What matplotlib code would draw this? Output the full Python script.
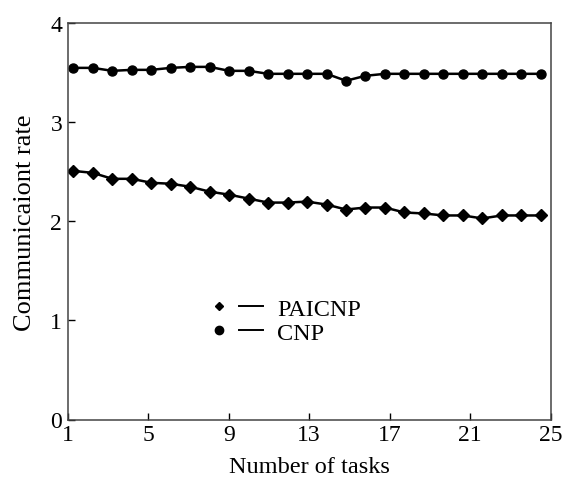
import numpy as np
import matplotlib
matplotlib.use("Agg")
import matplotlib.pyplot as plt
from matplotlib.lines import Line2D
from matplotlib.legend_handler import HandlerTuple

plt.rcParams['font.family'] = ['Liberation Serif', 'DejaVu Serif']

# data
tasks = np.arange(1, 26)
paicnp = [2.51, 2.49, 2.43, 2.43, 2.39, 2.38, 2.35, 2.30, 2.27, 2.23,
          2.19, 2.19, 2.20, 2.17, 2.12, 2.14, 2.14, 2.09, 2.08, 2.06,
          2.06, 2.03, 2.06, 2.06, 2.06]
cnp = [3.55, 3.55, 3.52, 3.53, 3.53, 3.55, 3.56, 3.56, 3.52, 3.52,
       3.49, 3.49, 3.49, 3.49, 3.42, 3.47, 3.49, 3.49, 3.49, 3.49,
       3.49, 3.49, 3.49, 3.49, 3.49]
xtick_labels = ["1", "5", "9", "13", "17", "21", "25"]

fig = plt.figure(figsize=(5.63, 4.81), dpi=100)
ax = fig.add_axes([67.7/563, 1 - 420.5/481, 483/563, 396.2/481])

ax.plot(tasks, paicnp, color='black', lw=1.8, marker='D', ms=5.8)
ax.plot(tasks, cnp, color='black', lw=1.8, marker='o', ms=6.5)

# the original axis is a category axis: labels spread evenly over the full width
xmin, xmax = 0.71, 25.51
ax.set_xlim(xmin, xmax)
ax.set_xticks(np.linspace(xmin, xmax, len(xtick_labels)))
ax.set_xticklabels(xtick_labels)
ax.set_ylim(0, 4)
ax.set_yticks([0, 1, 2, 3, 4])
ax.tick_params(direction='in', length=5, width=1, labelsize=17)
ax.tick_params(axis='x', pad=3)
ax.tick_params(axis='y', pad=4)
for s in ax.spines.values():
    s.set_linewidth(1.1)
    s.set_color('#444444')

ax.set_xlabel("Number of tasks", fontsize=17.5, labelpad=8)
ax.set_ylabel("Communicaiont rate", fontsize=19, labelpad=10)

# legend: marker, gap, short line, label
h1 = (Line2D([], [], ls='none', marker='D', ms=4, color='black'),
      Line2D([], [], color='black', lw=1.4))
h2 = (Line2D([], [], ls='none', marker='o', ms=6, color='black'),
      Line2D([], [], color='black', lw=1.4))
ax.legend([h1, h2], ["PAICNP", "CNP"], handler_map={tuple: HandlerTuple(ndivide=None, pad=0.33)},
          loc='center left', bbox_to_anchor=(0.263, 0.249), frameon=False, fontsize=17.5,
          borderpad=0, handlelength=2.3, handletextpad=0.6, labelspacing=0.08)

fig.savefig("out.png", dpi=100)
